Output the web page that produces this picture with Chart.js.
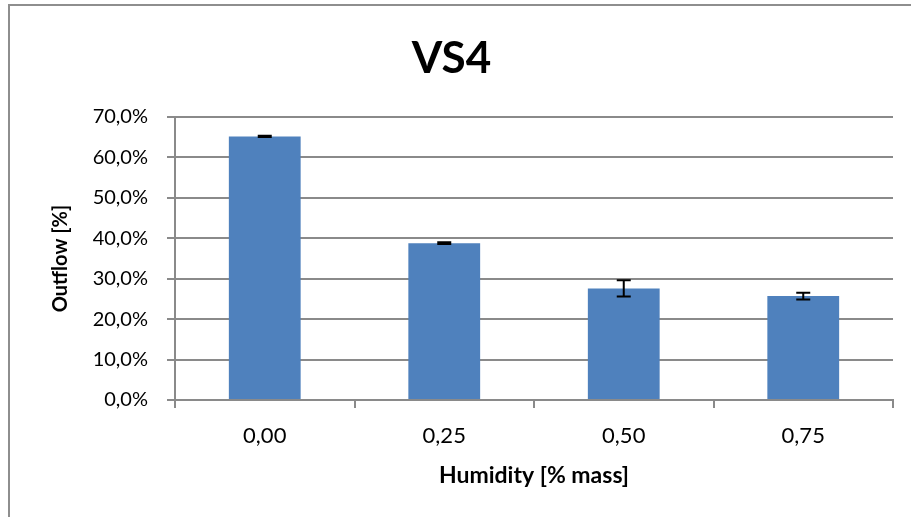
<!DOCTYPE html>
<html>
<head>
<meta charset="utf-8">
<script src="https://cdn.jsdelivr.net/npm/chart.js@4.4.1/dist/chart.umd.min.js"></script>
<style>
  html, body { margin: 0; padding: 0; background: #fff; overflow: hidden; }
  #wrap { position: relative; width: 911px; height: 517px; }
  #frame { position: absolute; left: 8px; top: 4px; width: 1000px; height: 1000px;
           border-left: 2px solid #8e8e8e; border-top: 2px solid #8e8e8e; }
  canvas { position: absolute; left: 0; top: 0; }
</style>
</head>
<body>
<div id="wrap">
  <div id="frame"></div>
  <canvas id="chart" width="911" height="517"></canvas>
</div>
<script>
// VS4 outflow vs humidity, bar chart with error bars

const categories = ['0,00', '0,25', '0,50', '0,75'];
const outflow = [65.2, 38.8, 27.6, 25.7];   // %
const outflowErr = [0.15, 0.2, 2.0, 0.85];    // +/- %
const yTicks = [0, 10, 20, 30, 40, 50, 60, 70];

const FONT = 'Lato, "Open Sans", sans-serif';
const GRID = '#8a8a8a';

// draws the black whiskers from the data arrays through the y scale
const errorBars = {
  id: 'errorBars',
  afterDatasetsDraw(chart) {
    const ctx = chart.ctx;
    const y = chart.scales.y;
    const meta = chart.getDatasetMeta(0);
    ctx.save();
    ctx.strokeStyle = '#000';
    ctx.lineWidth = 2;
    meta.data.forEach((bar, i) => {
      const v = outflow[i], e = outflowErr[i];
      const top = y.getPixelForValue(v + e);
      const bot = y.getPixelForValue(v - e);
      const cap = 7;
      ctx.beginPath();
      ctx.moveTo(bar.x, top); ctx.lineTo(bar.x, bot);
      ctx.moveTo(bar.x - cap, top); ctx.lineTo(bar.x + cap, top);
      ctx.moveTo(bar.x - cap, bot); ctx.lineTo(bar.x + cap, bot);
      ctx.stroke();
    });
    ctx.restore();
  }
};

new Chart(document.getElementById('chart'), {
  type: 'bar',
  data: {
    labels: categories,
    datasets: [{
      data: outflow,
      backgroundColor: '#4F81BD',
      borderWidth: 0,
      barPercentage: 0.4,
      categoryPercentage: 1
    }]
  },
  plugins: [errorBars],
  options: {
    responsive: false,
    animation: false,
    layout: { padding: { left: 10, right: 18, top: 0, bottom: 0 } },
    plugins: {
      legend: { display: false },
      tooltip: { enabled: false },
      title: {
        display: true,
        text: 'VS4',
        color: '#000',
        font: { family: FONT, size: 44, weight: 'bold', lineHeight: 1.2 },
        padding: { top: 32, bottom: 32.2 }
      }
    },
    scales: {
      x: {
        grid: { display: true, drawOnChartArea: false, drawTicks: true, tickLength: 8,
                offset: true, color: GRID, lineWidth: 2 },
        border: { display: true, color: GRID, width: 2 },
        ticks: { color: '#000', font: { family: FONT, size: 22 }, padding: 15 },
        title: {
          display: true,
          text: 'Humidity [% mass]',
          color: '#000',
          font: { family: FONT, size: 23, weight: 'bold', lineHeight: 1.2 },
          padding: { top: 0, bottom: 28 }
        },
        afterFit: (s) => { s.height = 117; }
      },
      y: {
        min: 0,
        max: 70,
        afterBuildTicks: (s) => { s.ticks = yTicks.map(v => ({ value: v })); },
        grid: { color: GRID, lineWidth: 2, drawTicks: true, tickLength: 8 },
        border: { display: true, color: GRID, width: 2 },
        ticks: {
          color: '#000',
          font: { family: FONT, size: 20 },
          padding: 19,
          callback: (v) => v.toFixed(1).replace('.', ',') + '%'
        },
        title: {
          display: true,
          text: 'Outflow [%]',
          color: '#000',
          font: { family: FONT, size: 20, weight: 'bold', lineHeight: 1.2 },
          padding: { top: 39, bottom: 39 }
        },
        afterFit: (s) => { s.width = 165; }
      }
    }
  }
});
</script>
</body>
</html>
